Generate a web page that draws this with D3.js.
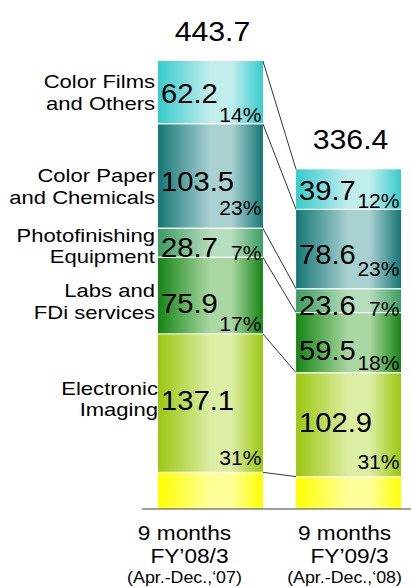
<!DOCTYPE html>
<html>
<head>
<meta charset="utf-8">
<script src="https://cdn.jsdelivr.net/npm/d3@7"></script>
<style>
  html, body { margin: 0; padding: 0; background: #fff; }
  svg { display: block; }
  text { font-family: "Liberation Sans", Arial, Helvetica, sans-serif; fill: #000; }
</style>
</head>
<body>
<svg id="chart" width="411" height="587"></svg>
<script>
// ---------------- DATA ----------------
const periods = ["FY'08/3", "FY'09/3"];
const periodLabels = [
  ["9 months", "FY\u201908/3", "(Apr.-Dec.,\u201807)"],
  ["9 months", "FY\u201909/3", "(Apr.-Dec.,\u201808)"]
];
// segments, bottom to top
const segments = ["Other", "Electronic Imaging", "Labs and FDi services",
                  "Photofinishing Equipment", "Color Paper and Chemicals", "Color Films and Others"];
const segmentLabelLines = [
  [],
  ["Electronic", "Imaging"],
  ["Labs and", "FDi services"],
  ["Photofinishing", "Equipment"],
  ["Color Paper", "and Chemicals"],
  ["Color Films", "and Others"]
];
const values08 = [36.3, 137.1, 75.9, 28.7, 103.5, 62.2];
const values09 = [32.1, 102.9, 59.5, 23.6, 78.6, 39.7];
const pct08 = ["", "31%", "17%", "7%", "23%", "14%"];
const pct09 = ["", "31%", "18%", "7%", "23%", "12%"];
const totals = [443.7, 336.4];

// ---------------- STYLE / LAYOUT ----------------
const edgeColors  = ["#FFFF00", "#9BC70F", "#158515", "#3C9C60", "#167676", "#36CCCC"];
const lightColors = ["#FFFF9A", "#DCEDA4", "#AAD7A2", "#B6DDBC", "#A9D1D1", "#C2EDED"];
const valueDy = [0, 7, 17, 14, 14.5, 11];     // baseline offset from segment middle
const pctDy   = [0, -7.5, -3, 3, -13, -1.5];  // baseline offset from segment bottom
const catDy   = [0, -8, 2.4, 0, 7, -3.5];     // first line offset from segment middle
const SX = 1.08; // horizontal stretch of the reference's lettering

const svg = d3.select("#chart");
const allValues = [values08, values09];
const allPct = [pct08, pct09];

const x = d3.scaleBand().domain(periods).range([158, 401]).paddingInner(0.24).paddingOuter(0);
const y = d3.scaleLinear().domain([0, 443.7]).range([509, 61]);

// gradients
const defs = svg.append("defs");
segments.forEach((s, i) => {
  const g = defs.append("linearGradient").attr("id", "grad" + i)
    .attr("x1", "0").attr("x2", "1").attr("y1", "0").attr("y2", "0");
  g.append("stop").attr("offset", "0").attr("stop-color", edgeColors[i]);
  g.append("stop").attr("offset", "0.5").attr("stop-color", lightColors[i]);
  g.append("stop").attr("offset", "0.7").attr("stop-color", lightColors[i]);
  g.append("stop").attr("offset", "1").attr("stop-color", edgeColors[i]);
});

// stacked data
const stacks = allValues.map(vals => {
  let acc = 0;
  return vals.map((v, i) => { const d = { i, v, y0: acc, y1: acc + v }; acc += v; return d; });
});

function stretchedText(sel, tx, ty, sx) {
  return sel.attr("transform", `translate(${tx},${ty}) scale(${sx || SX},1)`);
}

// connectors (drawn first)
const gConn = svg.append("g");
segments.forEach((s, i) => {
  gConn.append("line")
    .attr("x1", x(periods[0]) + x.bandwidth())
    .attr("y1", y(stacks[0][i].y1))
    .attr("x2", x(periods[1]))
    .attr("y2", y(stacks[1][i].y1))
    .attr("stroke", "#000").attr("stroke-width", 0.8);
});

// bars
periods.forEach((p, b) => {
  const g = svg.append("g");
  g.selectAll("rect").data(stacks[b]).join("rect")
    .attr("x", x(p))
    .attr("width", x.bandwidth())
    .attr("y", d => y(d.y1))
    .attr("height", d => y(d.y0) - y(d.y1))
    .attr("fill", d => `url(#grad${d.i})`);
  // separators
  g.selectAll("line.sep").data(stacks[b].slice(1)).join("line")
    .attr("class", "sep")
    .attr("x1", x(p)).attr("x2", x(p) + x.bandwidth())
    .attr("y1", d => y(d.y0)).attr("y2", d => y(d.y0))
    .attr("stroke", "rgba(255,255,255,0.85)").attr("stroke-width", 1.4);

  // value labels
  stacks[b].forEach(d => {
    if (d.i === 0) return;
    const mid = (y(d.y0) + y(d.y1)) / 2;
    stretchedText(g.append("text"), x(p) + 3, mid + valueDy[d.i])
      .attr("font-size", 27).text(d.v.toFixed(1));
    stretchedText(g.append("text"), x(p) + x.bandwidth() - 1.5, y(d.y0) + pctDy[d.i])
      .attr("font-size", 19.5).attr("text-anchor", "end").text(allPct[b][d.i]);
  });

  // totals
  stretchedText(svg.append("text"), x(p) + x.bandwidth() / 2 + 2, y(totals[b]) - 20)
    .attr("font-size", 28).attr("text-anchor", "middle").text(totals[b].toFixed(1));
});

// category labels (left of first bar), two lines each
const catFont = 19, catGap = 21.3, catSX = 1.16;
stacks[0].forEach(d => {
  const lines = segmentLabelLines[d.i];
  if (!lines.length) return;
  const mid = (y(d.y0) + y(d.y1)) / 2;
  const ax = d.i === 1 ? x(periods[0]) : x(periods[0]) - 3;
  const t = stretchedText(svg.append("text"), ax, mid + catDy[d.i] - 0.6, catSX)
    .attr("font-size", catFont).attr("text-anchor", "end");
  lines.forEach((ln, k) => {
    t.append("tspan").attr("x", 0).attr("y", k * catGap).text(ln);
  });
});

// axis baseline
svg.append("line")
  .attr("x1", 142).attr("x2", 411)
  .attr("y1", y(0)).attr("y2", y(0))
  .attr("stroke", "#7f7f7f").attr("stroke-width", 1.5);

// period labels
const periodShift = [-26, -4];
periods.forEach((p, b) => {
  const cx = x(p) + x.bandwidth() / 2 + periodShift[b];
  const lines = periodLabels[b];
  stretchedText(svg.append("text"), cx, y(0) + 31).attr("font-size", 21).attr("text-anchor", "middle").text(lines[0]);
  stretchedText(svg.append("text"), cx + 5, y(0) + 54).attr("font-size", 21).attr("text-anchor", "middle").text(lines[1]);
  stretchedText(svg.append("text"), cx, y(0) + 74).attr("font-size", 16.5).attr("text-anchor", "middle").text(lines[2]);
});
</script>
</body>
</html>
